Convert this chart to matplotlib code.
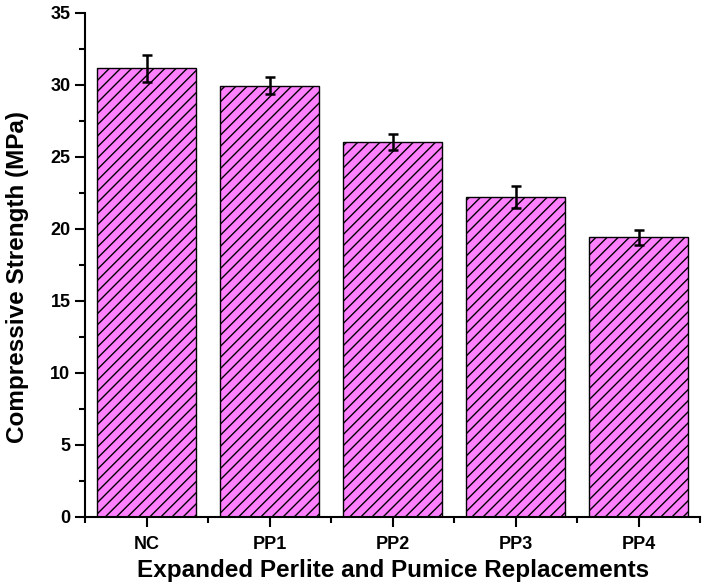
import matplotlib
matplotlib.use("Agg")
import matplotlib.pyplot as plt
from matplotlib.ticker import MultipleLocator, FixedLocator

# data
categories = ["NC", "PP1", "PP2", "PP3", "PP4"]
strength = [31.15, 29.95, 26.05, 22.2, 19.42]
strength_err = [0.92, 0.6, 0.55, 0.75, 0.53]

plt.rcParams["font.family"] = ["Liberation Sans", "DejaVu Sans"]
plt.rcParams["font.weight"] = "bold"
plt.rcParams["hatch.linewidth"] = 1.0

fig = plt.figure(figsize=(7.03, 5.88), dpi=100)
ax = fig.add_axes([0.121, 0.121, 0.875, 0.857])

x = list(range(len(categories)))
ax.bar(x, strength, width=0.8, color="#FF80FF", edgecolor="black",
       linewidth=1.0, hatch="///", zorder=2)
ax.errorbar(x, strength, yerr=strength_err, fmt="none", ecolor="black",
            elinewidth=1.8, capsize=3.3, capthick=1.8, zorder=3)

ax.set_xlim(-0.5, 4.5)
ax.set_ylim(0, 35)
ax.set_xticks(x)
ax.set_xticklabels(categories)
ax.xaxis.set_minor_locator(FixedLocator([-0.5, 0.5, 1.5, 2.5, 3.5, 4.5]))
ax.yaxis.set_major_locator(MultipleLocator(5))
ax.yaxis.set_minor_locator(MultipleLocator(2.5))

for side in ("top", "right"):
    ax.spines[side].set_visible(False)
for side in ("left", "bottom"):
    ax.spines[side].set_linewidth(1.5)

ax.tick_params(which="major", direction="out", length=7, width=1.5,
               labelsize=13)
ax.tick_params(which="minor", direction="out", length=4, width=1.5)
ax.tick_params(axis="x", which="major", pad=7)
for lbl in ax.get_xticklabels() + ax.get_yticklabels():
    lbl.set_fontweight("bold")

ax.set_xlabel("Expanded Perlite and Pumice Replacements", fontsize=17.5,
              fontweight="bold")
ax.set_ylabel("Compressive Strength (MPa)", fontsize=17.5,
              fontweight="bold")
# label positions as in the reference (ylabel sits a bit below centre)
ax.xaxis.set_label_coords(0.5, -0.084)
ax.yaxis.set_label_coords(-0.091, 0.476)

fig.savefig("out.png", dpi=100)
